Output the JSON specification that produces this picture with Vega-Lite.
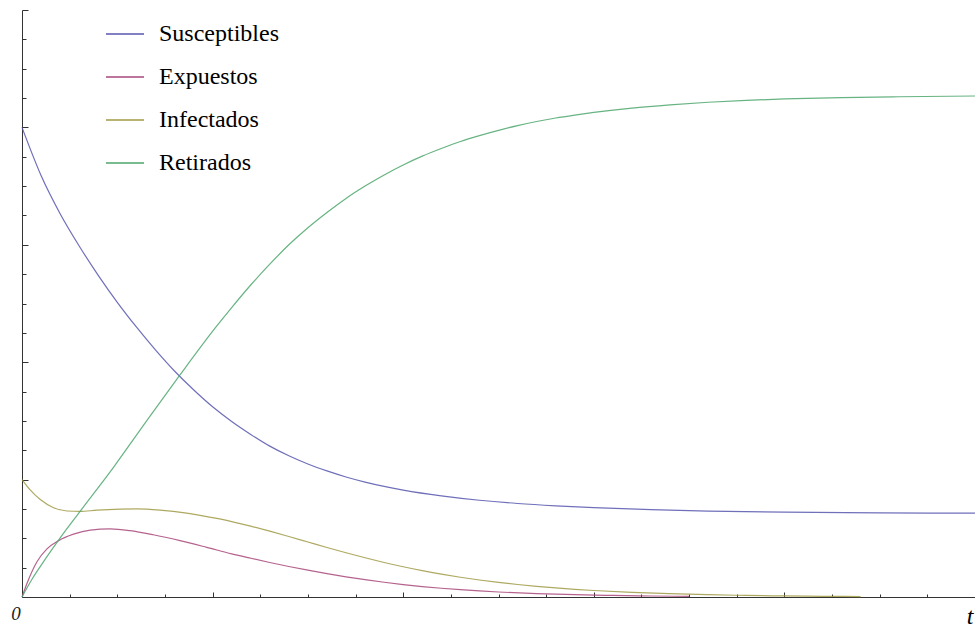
{
  "$schema": "https://vega.github.io/schema/vega-lite/v6.json",
  "width": 953,
  "height": 587,
  "autosize": {"type": "none"},
  "padding": {"left": 22, "top": 10, "right": 0, "bottom": 31},
  "background": "white",
  "config": {
    "view": {"stroke": null},
    "axis": {"grid": false, "domainColor": "#333333", "tickColor": "#333333", "domainWidth": 1, "tickWidth": 1}
  },
  "data": {
    "values": [
      {"s": "Susceptibles", "t": 0, "v": 0.8},
      {"s": "Susceptibles", "t": 0.1, "v": 0.718},
      {"s": "Susceptibles", "t": 0.2, "v": 0.653},
      {"s": "Susceptibles", "t": 0.3, "v": 0.598},
      {"s": "Susceptibles", "t": 0.4, "v": 0.548},
      {"s": "Susceptibles", "t": 0.5, "v": 0.502},
      {"s": "Susceptibles", "t": 0.6, "v": 0.46},
      {"s": "Susceptibles", "t": 0.7, "v": 0.421},
      {"s": "Susceptibles", "t": 0.8, "v": 0.385},
      {"s": "Susceptibles", "t": 0.9, "v": 0.353},
      {"s": "Susceptibles", "t": 1.0, "v": 0.324},
      {"s": "Susceptibles", "t": 1.1, "v": 0.299},
      {"s": "Susceptibles", "t": 1.2, "v": 0.277},
      {"s": "Susceptibles", "t": 1.3, "v": 0.257},
      {"s": "Susceptibles", "t": 1.4, "v": 0.2405},
      {"s": "Susceptibles", "t": 1.5, "v": 0.2265},
      {"s": "Susceptibles", "t": 1.6, "v": 0.2148},
      {"s": "Susceptibles", "t": 1.7, "v": 0.2045},
      {"s": "Susceptibles", "t": 1.8, "v": 0.1958},
      {"s": "Susceptibles", "t": 1.9, "v": 0.1884},
      {"s": "Susceptibles", "t": 2.0, "v": 0.1822},
      {"s": "Susceptibles", "t": 2.2, "v": 0.1723},
      {"s": "Susceptibles", "t": 2.4, "v": 0.1648},
      {"s": "Susceptibles", "t": 2.6, "v": 0.1593},
      {"s": "Susceptibles", "t": 2.8, "v": 0.1553},
      {"s": "Susceptibles", "t": 3.0, "v": 0.1522},
      {"s": "Susceptibles", "t": 3.3, "v": 0.1488},
      {"s": "Susceptibles", "t": 3.6, "v": 0.1463},
      {"s": "Susceptibles", "t": 4.0, "v": 0.1445},
      {"s": "Susceptibles", "t": 4.5, "v": 0.1434},
      {"s": "Susceptibles", "t": 5.0, "v": 0.1428},

      {"s": "Expuestos", "t": 0, "v": 0},
      {"s": "Expuestos", "t": 0.026, "v": 0.023},
      {"s": "Expuestos", "t": 0.0785, "v": 0.06},
      {"s": "Expuestos", "t": 0.131, "v": 0.082},
      {"s": "Expuestos", "t": 0.192, "v": 0.096},
      {"s": "Expuestos", "t": 0.27, "v": 0.107},
      {"s": "Expuestos", "t": 0.358, "v": 0.114},
      {"s": "Expuestos", "t": 0.462, "v": 0.116},
      {"s": "Expuestos", "t": 0.567, "v": 0.113},
      {"s": "Expuestos", "t": 0.689, "v": 0.106},
      {"s": "Expuestos", "t": 0.829, "v": 0.096},
      {"s": "Expuestos", "t": 0.969, "v": 0.0846},
      {"s": "Expuestos", "t": 1.1, "v": 0.0735},
      {"s": "Expuestos", "t": 1.2, "v": 0.066},
      {"s": "Expuestos", "t": 1.3, "v": 0.0588},
      {"s": "Expuestos", "t": 1.4, "v": 0.052},
      {"s": "Expuestos", "t": 1.5, "v": 0.0457},
      {"s": "Expuestos", "t": 1.6, "v": 0.0398},
      {"s": "Expuestos", "t": 1.7, "v": 0.0344},
      {"s": "Expuestos", "t": 1.8, "v": 0.0295},
      {"s": "Expuestos", "t": 1.9, "v": 0.0251},
      {"s": "Expuestos", "t": 2.0, "v": 0.0212},
      {"s": "Expuestos", "t": 2.1, "v": 0.0178},
      {"s": "Expuestos", "t": 2.2, "v": 0.0149},
      {"s": "Expuestos", "t": 2.3, "v": 0.0124},
      {"s": "Expuestos", "t": 2.4, "v": 0.0103},
      {"s": "Expuestos", "t": 2.5, "v": 0.0085},
      {"s": "Expuestos", "t": 2.7, "v": 0.0058},
      {"s": "Expuestos", "t": 2.9, "v": 0.0039},
      {"s": "Expuestos", "t": 3.1, "v": 0.0026},
      {"s": "Expuestos", "t": 3.3, "v": 0.0017},
      {"s": "Expuestos", "t": 3.5, "v": 0.0011},

      {"s": "Infectados", "t": 0, "v": 0.2},
      {"s": "Infectados", "t": 0.044, "v": 0.182},
      {"s": "Infectados", "t": 0.096, "v": 0.166},
      {"s": "Infectados", "t": 0.166, "v": 0.152},
      {"s": "Infectados", "t": 0.236, "v": 0.1465},
      {"s": "Infectados", "t": 0.305, "v": 0.1457},
      {"s": "Infectados", "t": 0.393, "v": 0.148},
      {"s": "Infectados", "t": 0.515, "v": 0.1497},
      {"s": "Infectados", "t": 0.602, "v": 0.15},
      {"s": "Infectados", "t": 0.724, "v": 0.148},
      {"s": "Infectados", "t": 0.864, "v": 0.1429},
      {"s": "Infectados", "t": 1.0, "v": 0.1351},
      {"s": "Infectados", "t": 1.1, "v": 0.1285},
      {"s": "Infectados", "t": 1.2, "v": 0.1207},
      {"s": "Infectados", "t": 1.3, "v": 0.1121},
      {"s": "Infectados", "t": 1.4, "v": 0.103},
      {"s": "Infectados", "t": 1.5, "v": 0.0937},
      {"s": "Infectados", "t": 1.6, "v": 0.0844},
      {"s": "Infectados", "t": 1.7, "v": 0.0754},
      {"s": "Infectados", "t": 1.8, "v": 0.0668},
      {"s": "Infectados", "t": 1.9, "v": 0.0588},
      {"s": "Infectados", "t": 2.0, "v": 0.0515},
      {"s": "Infectados", "t": 2.1, "v": 0.0449},
      {"s": "Infectados", "t": 2.2, "v": 0.039},
      {"s": "Infectados", "t": 2.3, "v": 0.0337},
      {"s": "Infectados", "t": 2.4, "v": 0.029},
      {"s": "Infectados", "t": 2.5, "v": 0.0249},
      {"s": "Infectados", "t": 2.6, "v": 0.0213},
      {"s": "Infectados", "t": 2.7, "v": 0.0182},
      {"s": "Infectados", "t": 2.8, "v": 0.0155},
      {"s": "Infectados", "t": 2.9, "v": 0.0131},
      {"s": "Infectados", "t": 3.0, "v": 0.0111},
      {"s": "Infectados", "t": 3.2, "v": 0.0079},
      {"s": "Infectados", "t": 3.4, "v": 0.0056},
      {"s": "Infectados", "t": 3.6, "v": 0.0039},
      {"s": "Infectados", "t": 3.8, "v": 0.0027},
      {"s": "Infectados", "t": 4.0, "v": 0.0018},
      {"s": "Infectados", "t": 4.2, "v": 0.0012},
      {"s": "Infectados", "t": 4.4, "v": 0.0008},

      {"s": "Retirados", "t": 0, "v": 0},
      {"s": "Retirados", "t": 0.05, "v": 0.029},
      {"s": "Retirados", "t": 0.1, "v": 0.054},
      {"s": "Retirados", "t": 0.192, "v": 0.097},
      {"s": "Retirados", "t": 0.305, "v": 0.146},
      {"s": "Retirados", "t": 0.48, "v": 0.221},
      {"s": "Retirados", "t": 0.669, "v": 0.307},
      {"s": "Retirados", "t": 0.826, "v": 0.377},
      {"s": "Retirados", "t": 1.018, "v": 0.46},
      {"s": "Retirados", "t": 1.1, "v": 0.493},
      {"s": "Retirados", "t": 1.2, "v": 0.5315},
      {"s": "Retirados", "t": 1.3, "v": 0.567},
      {"s": "Retirados", "t": 1.4, "v": 0.6},
      {"s": "Retirados", "t": 1.5, "v": 0.629},
      {"s": "Retirados", "t": 1.6, "v": 0.655},
      {"s": "Retirados", "t": 1.7, "v": 0.679},
      {"s": "Retirados", "t": 1.8, "v": 0.7},
      {"s": "Retirados", "t": 1.9, "v": 0.719},
      {"s": "Retirados", "t": 2.0, "v": 0.736},
      {"s": "Retirados", "t": 2.1, "v": 0.751},
      {"s": "Retirados", "t": 2.2, "v": 0.764},
      {"s": "Retirados", "t": 2.3, "v": 0.776},
      {"s": "Retirados", "t": 2.4, "v": 0.786},
      {"s": "Retirados", "t": 2.5, "v": 0.795},
      {"s": "Retirados", "t": 2.6, "v": 0.803},
      {"s": "Retirados", "t": 2.7, "v": 0.81},
      {"s": "Retirados", "t": 2.8, "v": 0.816},
      {"s": "Retirados", "t": 2.9, "v": 0.821},
      {"s": "Retirados", "t": 3.0, "v": 0.8255},
      {"s": "Retirados", "t": 3.2, "v": 0.833},
      {"s": "Retirados", "t": 3.4, "v": 0.8385},
      {"s": "Retirados", "t": 3.6, "v": 0.8428},
      {"s": "Retirados", "t": 3.8, "v": 0.846},
      {"s": "Retirados", "t": 4.0, "v": 0.8485},
      {"s": "Retirados", "t": 4.3, "v": 0.8508},
      {"s": "Retirados", "t": 4.6, "v": 0.8522},
      {"s": "Retirados", "t": 5.0, "v": 0.8535}
    ]
  },
  "layer": [
    {
      "mark": {"type": "line", "strokeWidth": 1.2, "interpolate": "monotone", "opacity": 0.85},
      "encoding": {
        "x": {
          "field": "t", "type": "quantitative",
          "scale": {"domain": [0, 5], "nice": false, "zero": false},
          "axis": {
            "orient": "bottom", "values": [0, 1, 2, 3, 4], "tickSize": -5,
            "labelExpr": "datum.value === 0 ? '0' : ''",
            "labelFont": "Liberation Serif", "labelFontStyle": "italic", "labelFontSize": 19,
            "labelColor": "#222222", "labelOffset": -6.5, "labelPadding": 12, "labelBaseline": "top",
            "labelFlush": false, "labelOverlap": false,
            "title": "t", "titleFont": "Liberation Serif", "titleFontStyle": "italic", "titleFontWeight": "normal",
            "titleFontSize": 24, "titleColor": "#000000", "titleX": 951, "titleY": 26,
            "titleAlign": "right", "titleBaseline": "alphabetic"
          }
        },
        "y": {
          "field": "v", "type": "quantitative",
          "scale": {"domain": [0, 1], "nice": false},
          "axis": {"orient": "left", "values": [0.2, 0.4, 0.6, 0.8, 1.0], "tickSize": -6, "labels": false, "title": null}
        },
        "color": {
          "field": "s", "type": "nominal",
          "scale": {
            "domain": ["Susceptibles", "Expuestos", "Infectados", "Retirados"],
            "range": ["#5656AE", "#A8477A", "#A09A45", "#4CA66C"]
          },
          "legend": {
            "orient": "none", "legendX": 83, "legendY": 4, "title": null,
            "symbolType": "stroke", "symbolSize": 1444, "symbolStrokeWidth": 1.6, "symbolOpacity": 1,
            "labelFont": "Liberation Serif", "labelFontSize": 24, "labelColor": "#000000",
            "labelOffset": 14, "rowPadding": 11, "padding": 0, "labelLimit": 300
          }
        }
      }
    },
    {
      "mark": {"type": "point", "opacity": 0},
      "encoding": {
        "x": {
          "field": "t", "type": "quantitative",
          "axis": {
            "orient": "bottom",
            "values": [0.25, 0.5, 0.75, 1.25, 1.5, 1.75, 2.25, 2.5, 2.75, 3.25, 3.5, 3.75, 4.25, 4.5, 4.75],
            "tickSize": -3, "labels": false, "domain": false, "title": null
          }
        },
        "y": {
          "field": "v", "type": "quantitative",
          "axis": {
            "orient": "left",
            "values": [0.05, 0.1, 0.15, 0.25, 0.3, 0.35, 0.45, 0.5, 0.55, 0.65, 0.7, 0.75, 0.85, 0.9, 0.95],
            "tickSize": -4, "labels": false, "domain": false, "title": null
          }
        }
      }
    }
  ],
  "resolve": {"axis": {"x": "independent", "y": "independent"}}
}
